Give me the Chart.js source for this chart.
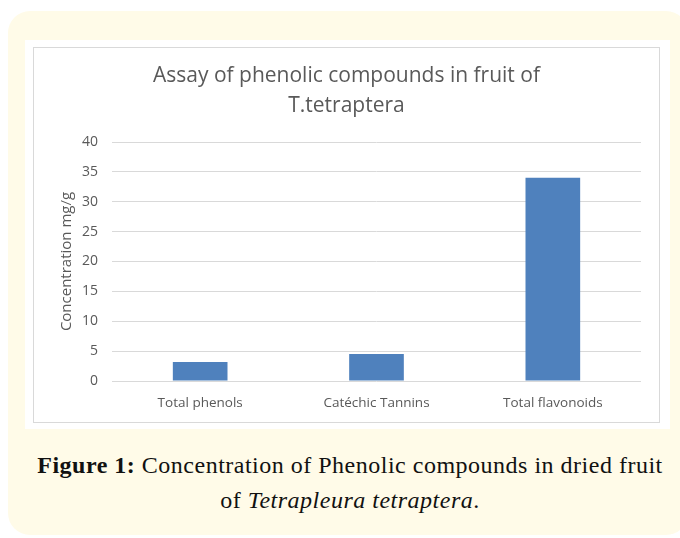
<!DOCTYPE html>
<html>
<head>
<meta charset="utf-8">
<script src="https://cdn.jsdelivr.net/npm/chart.js@4.4.0/dist/chart.umd.min.js"></script>
<style>
  html, body { margin: 0; padding: 0; background: #ffffff; }
  body { width: 680px; height: 538px; position: relative; overflow: hidden; }
  .cream {
    position: absolute; left: 8px; top: 11px; width: 680px; height: 524px;
    background: #fffbe8; border-radius: 22px;
  }
  .sheet {
    position: absolute; left: 25px; top: 40px; width: 645px; height: 389px;
    background: #ffffff;
  }
  .frame {
    position: absolute; left: 33px; top: 47px; width: 625px; height: 374px;
    border: 1px solid #d9d9d9; background: #ffffff;
  }
  .caption {
    position: absolute; left: 14px; top: 448px; width: 672px;
    text-align: center; font-family: "Liberation Serif", serif; font-size: 24px;
    letter-spacing: 0.5px; line-height: 35px; color: #111;
  }
</style>
</head>
<body>
<div class="cream"></div>
<div class="sheet"></div>
<div class="frame"><canvas id="myChart" width="625" height="374"></canvas></div>
<div class="caption"><b>Figure 1:</b> Concentration of Phenolic compounds in dried fruit<br>of <i>Tetrapleura tetraptera</i>.</div>
<script>
  const categorias = ["Total phenols", "Catéchic Tannins", "Total flavonoids"];
  const valores = [3.2, 4.5, 34];
  const titulo = ["Assay of phenolic compounds in fruit of", "T.tetraptera"];
  const tituloEixo = "Concentration mg/g";

  const cinza = "#595959";

  const config = {
    type: "bar",
    data: {
      labels: categorias,
      datasets: [
        {
          label: "Concentration",
          backgroundColor: "#4f81bd",
          data: valores,
          barPercentage: 0.62,
          categoryPercentage: 0.5,
        },
      ],
    },
    options: {
      responsive: false,
      animation: false,
      layout: { padding: { left: 18, right: 18, top: 13, bottom: 0 } },
      plugins: {
        legend: { display: false },
        tooltip: { enabled: false },
        title: {
          display: true,
          text: titulo,
          color: cinza,
          font: { family: "'Open Sans'", size: 21, weight: "normal", lineHeight: "30px" },
          padding: { top: 0, bottom: 21 },
        },
      },
      scales: {
        x: {
          grid: { display: false },
          border: { display: false },
          ticks: { color: cinza, font: { family: "'Open Sans'", size: 13.5 }, padding: 6 },
          afterFit: (escala) => { escala.height = 41; },
        },
        y: {
          min: 0,
          max: 40,
          ticks: { stepSize: 5, color: cinza, font: { family: "'Open Sans'", size: 14 }, padding: 14 },
          grid: { color: "#d9d9d9", drawTicks: false },
          border: { display: false },
          title: {
            display: true,
            text: tituloEixo,
            color: cinza,
            font: { family: "'Open Sans'", size: 15 },
            padding: { top: 6, bottom: 4 },
          },
          afterFit: (escala) => { escala.width = 60; },
        },
      },
    },
  };

  new Chart(document.getElementById("myChart"), config);
</script>
</body>
</html>
